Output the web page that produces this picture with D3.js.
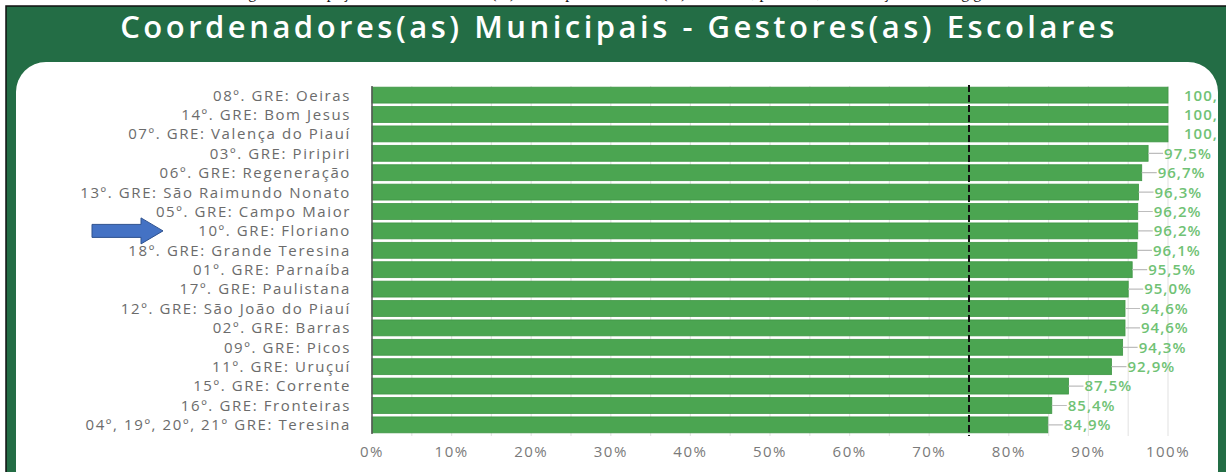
<!DOCTYPE html>
<meta charset="utf-8">
<head>
    <script src="https://d3js.org/d3.v7.min.js"></script>
    <style>
        body { margin: 0; background: white; }
        svg { display: block; font-family: "Open Sans", sans-serif; }
    </style>
</head>
<body>
<div id="chart"></div>
<script>
    // data
    var title = "Coordenadores(as) Municipais - Gestores(as) Escolares";
    var regions = [
        "08º. GRE: Oeiras",
        "14º. GRE: Bom Jesus",
        "07º. GRE: Valença do Piauí",
        "03º. GRE: Piripiri",
        "06º. GRE: Regeneração",
        "13º. GRE: São Raimundo Nonato",
        "05º. GRE: Campo Maior",
        "10º. GRE: Floriano",
        "18º. GRE: Grande Teresina",
        "01º. GRE: Parnaíba",
        "17º. GRE: Paulistana",
        "12º. GRE: São João do Piauí",
        "02º. GRE: Barras",
        "09º. GRE: Picos",
        "11º. GRE: Uruçuí",
        "15º. GRE: Corrente",
        "16º. GRE: Fronteiras",
        "04º, 19º, 20º, 21º GRE: Teresina"
    ];
    var values = [100, 100, 100, 97.5, 96.7, 96.3, 96.2, 96.2, 96.1, 95.5, 95.0, 94.6, 94.6, 94.3, 92.9, 87.5, 85.4, 84.9];
    var xTicks = [0, 10, 20, 30, 40, 50, 60, 70, 80, 90, 100];
    var gridTicks = [5, 10, 15, 20, 25, 30, 35, 40, 45, 50, 55, 60, 65, 70, 75, 80, 85, 90, 95, 100];
    var target = 75;
    var highlighted = "10º. GRE: Floriano";

    var width = 1226, height = 472;

    var rows = regions.map(function(r, i) { return {name: r, value: values[i]}; });

    var svg = d3.select("#chart").append("svg")
        .attr("width", width)
        .attr("height", height);

    // cut off caption line above the frame
    svg.append("text")
        .attr("x", 620).attr("y", -2.5)
        .attr("text-anchor", "middle")
        .attr("font-family", "Liberation Serif, serif")
        .attr("font-size", 16)
        .attr("fill", "#111")
        .text("Figura: Participação dos Coordenadores(as) Municipais e Gestores(as) Escolares, por GRE, na formação – ranking geral");

    // green frame
    svg.append("rect")
        .attr("x", 6).attr("y", 6)
        .attr("width", width).attr("height", height)
        .attr("fill", "#236d45")
        .attr("stroke", "#111")
        .attr("stroke-width", 1.5);

    svg.append("text")
        .attr("x", 619).attr("y", 38)
        .attr("text-anchor", "middle")
        .attr("font-size", 31)
        .attr("font-weight", 600)
        .attr("letter-spacing", 3.5)
        .attr("fill", "white")
        .text(title);

    // white panel with rounded corners
    svg.append("clipPath").attr("id", "panel")
        .append("rect")
        .attr("x", 16).attr("y", 62)
        .attr("width", 1202).attr("height", 438)
        .attr("rx", 30);

    svg.append("rect")
        .attr("x", 16).attr("y", 62)
        .attr("width", 1202).attr("height", 438)
        .attr("rx", 30)
        .attr("fill", "white");

    var g = svg.append("g").attr("clip-path", "url(#panel)");

    var x = d3.scaleLinear().domain([0, 100]).range([372, 1168]);
    var y = d3.scaleBand().domain(regions).range([86, 434]).paddingInner(0.18).paddingOuter(0.06);

    // grid
    g.selectAll(".grid").data(gridTicks).enter().append("line")
        .attr("x1", d => x(d)).attr("x2", d => x(d))
        .attr("y1", 86).attr("y2", 436)
        .attr("stroke", "#e6e6e6")
        .attr("stroke-width", 1.2);

    // bars
    g.selectAll(".bar").data(rows).enter().append("rect")
        .attr("x", x(0))
        .attr("y", d => y(d.name))
        .attr("width", d => x(d.value) - x(0))
        .attr("height", y.bandwidth())
        .attr("fill", "#4ba551")
        .attr("stroke", "#3f9645")
        .attr("stroke-width", 0.8);

    // leader lines and values
    g.selectAll(".lead").data(rows.filter(d => d.value < 100)).enter().append("line")
        .attr("x1", d => x(d.value))
        .attr("x2", d => x(d.value) + 15)
        .attr("y1", d => y(d.name) + y.bandwidth() / 2)
        .attr("y2", d => y(d.name) + y.bandwidth() / 2)
        .attr("stroke", "#bdbdbd")
        .attr("stroke-width", 1.2);

    g.selectAll(".val").data(rows).enter().append("text")
        .attr("x", d => x(d.value) + 16)
        .attr("y", d => y(d.name) + y.bandwidth() / 2)
        .attr("dy", "0.36em")
        .attr("font-size", 15)
        .attr("font-weight", 600)
        .attr("letter-spacing", 1)
        .attr("fill", "#70c275")
        .text(d => d3.format(".1f")(d.value).replace(".", ",") + "%");

    // y axis line
    g.append("line")
        .attr("x1", x(0)).attr("x2", x(0))
        .attr("y1", 86).attr("y2", 434)
        .attr("stroke", "#555")
        .attr("stroke-width", 1.5);

    // category labels
    g.selectAll(".lab").data(regions).enter().append("text")
        .attr("x", 351)
        .attr("y", d => y(d) + y.bandwidth() / 2)
        .attr("dy", "0.36em")
        .attr("text-anchor", "end")
        .attr("font-size", 15)
        .attr("letter-spacing", 1.6)
        .attr("fill", "#6b6b6b")
        .text(d => d);

    // x tick labels
    g.selectAll(".tick").data(xTicks).enter().append("text")
        .attr("x", d => x(d))
        .attr("y", 452)
        .attr("dy", "0.35em")
        .attr("text-anchor", "middle")
        .attr("font-size", 15)
        .attr("letter-spacing", 1.5)
        .attr("fill", "#7a7a7a")
        .text(d => d + "%");

    // 75% reference line
    g.append("line")
        .attr("x1", x(target)).attr("x2", x(target))
        .attr("y1", 85).attr("y2", 436)
        .attr("stroke", "#111")
        .attr("stroke-width", 2)
        .attr("stroke-dasharray", "7,3");

    // blue arrow pointing at the highlighted row
    var ay = y(highlighted) + y.bandwidth() / 2;
    svg.append("path")
        .attr("d", "M92," + (ay - 6.5) + "H141V" + (ay - 13) + "L163," + ay + "L141," + (ay + 13) + "V" + (ay + 6.5) + "H92Z")
        .attr("fill", "#4472c4")
        .attr("stroke", "#2f528f")
        .attr("stroke-width", 1);
</script>
</body>
</html>
